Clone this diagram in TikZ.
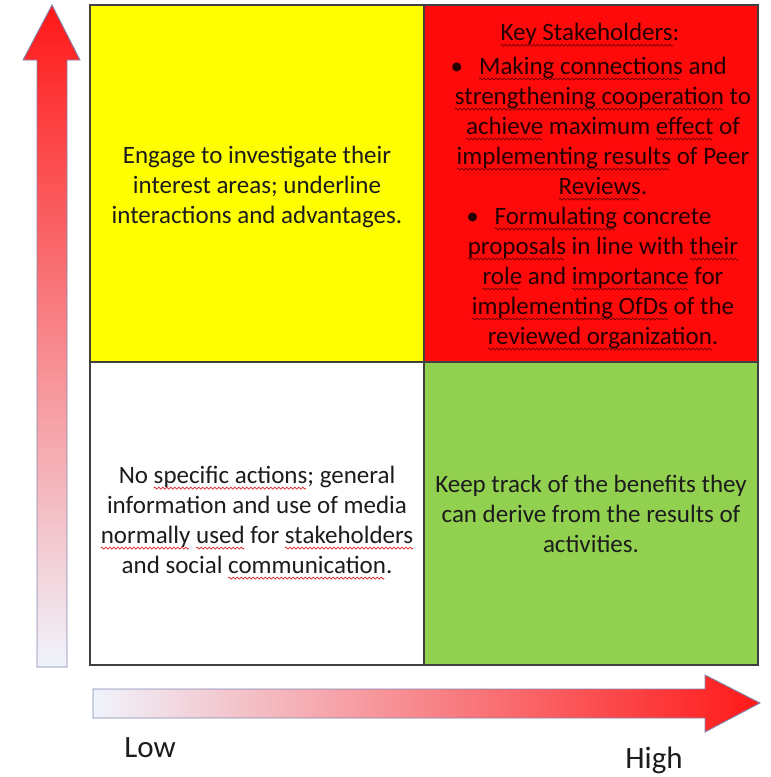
\documentclass[tikz,border=0pt]{standalone}
\usepackage{fontspec}
\setmainfont{Carlito}

\definecolor{quadline}{RGB}{64,64,64}
\definecolor{quadyellow}{RGB}{255,255,0}
\definecolor{quadred}{RGB}{255,10,10}
\definecolor{quadgreen}{RGB}{146,208,80}
\definecolor{textgray}{RGB}{28,28,28}
\definecolor{arrowline}{RGB}{128,134,176}
\definecolor{arrowred}{RGB}{255,24,24}
\definecolor{arrowpale}{RGB}{240,243,252}
\definecolor{wavered}{RGB}{225,40,40}
\definecolor{wavedark}{RGB}{120,0,0}

% spelling marks under words
\newsavebox\redwave
\newsavebox\darkwave
\newsavebox\wordbox
\newcommand\makewave[2]{\sbox#1{\begin{pgfpicture}
  \pgfsetbaseline{0pt}
  \pgfpathrectangle{\pgfpoint{0pt}{-1.5pt}}{\pgfpoint{4pt}{3pt}}\pgfusepath{use as bounding box}
  \pgfsetlinewidth{0.7pt}\pgfsetstrokecolor{#2}
  \pgfpathmoveto{\pgfpoint{0pt}{0pt}}\pgfpathlineto{\pgfpoint{1pt}{1pt}}
  \pgfpathlineto{\pgfpoint{3pt}{-1pt}}\pgfpathlineto{\pgfpoint{4pt}{0pt}}\pgfusepath{stroke}
  \end{pgfpicture}}}
\newcommand\markword[2]{\sbox\wordbox{#2}\rlap{\raisebox{-4.5pt}[0pt][0pt]{\hbox to \wd\wordbox{\leaders\copy#1\hfill}}}\usebox\wordbox}
\newcommand\sw[1]{\markword\redwave{#1}}
\newcommand\dw[1]{\markword\darkwave{#1}}

\begin{document}
\makewave\redwave{wavered}
\makewave\darkwave{wavedark}
\begin{tikzpicture}[x=1pt,y=-1pt]
    \tikzstyle{quad} = [draw=quadline, line width=1.3pt, inner sep=0pt, minimum width=334pt]
    \tikzstyle{words} = [text=textgray, font=\fontsize{25}{30}\selectfont, align=center]
    \tikzstyle{axis} = [draw=arrowline, line width=0.9pt]
    \useasboundingbox (0,0) rectangle (771,777);

    % Upper left, yellow quadrant
    \node [quad, fill=quadyellow, minimum height=357pt] (TopLeft) at (257,183.5) {};
      \node [words] (TopLeftText) at (257,187)
        {Engage to investigate their\\ interest areas; underline\\ interactions and advantages.};

    % Upper right, red quadrant
    \node [quad, fill=quadred, minimum height=357pt] (TopRight) at (591,183.5) {};
      \node [words, text=black!85!red] (KeyTitle) at (590,34) {\dw{Key Stakeholders}:};
      \node [words, text=black!85!red] (KeyList) at (603,203)
        {\llap{\textbullet\hspace{16pt}}\dw{Making connections} and\\
         \dw{strengthening cooperation} to\\
         \dw{achieve} maximum \dw{effect} of\\
         \dw{implementing results} of Peer\\
         \dw{Reviews}.\\
         \llap{\textbullet\hspace{16pt}}\dw{Formulating} concrete\\
         \dw{proposals} in line with \dw{their}\\
         \dw{role} and \dw{importance} for\\
         \dw{implementing OfDs} of the\\
         \dw{reviewed organization}.};

    % Lower left, white quadrant
    \node [quad, fill=white, minimum height=303pt] (BottomLeft) at (257,513.5) {};
      \node [words] (BottomLeftText) at (257,520)
        {No \sw{specific actions}; general\\ information and use of media\\
         \sw{normally} \sw{used} for \sw{stakeholders}\\ and social \sw{communication}.};

    % Lower right, green quadrant
    \node [quad, fill=quadgreen, minimum height=303pt] (BottomRight) at (591,513.5) {};
      \node [words] (BottomRightText) at (591,514)
        {Keep track of the benefits they\\ can derive from the results of\\ activities.};

    % Vertical axis arrow
    \shadedraw [axis, top color=arrowred, bottom color=arrowpale]
      (37,667) -- (37,60) -- (23,60) -- (52,5) -- (80,60) -- (67,60) -- (67,667) -- cycle;

    % Horizontal axis arrow
    \shadedraw [axis, left color=arrowpale, right color=arrowred]
      (93,689) -- (705,689) -- (705,675) -- (760,703) -- (705,732) -- (705,718) -- (93,718) -- cycle;

    % Axis labels
    \node [words, font=\fontsize{31}{34}\selectfont] (Low) at (150,748) {Low};
    \node [words, font=\fontsize{31}{34}\selectfont] (High) at (654,760) {High};
\end{tikzpicture}
\end{document}
